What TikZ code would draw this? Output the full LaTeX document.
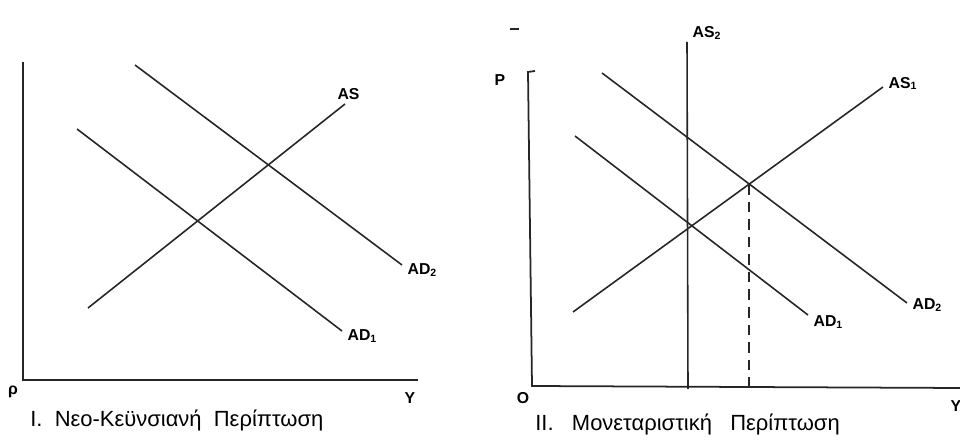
\documentclass[tikz,border=0pt]{standalone}
\usepackage{fontspec}
\setmainfont{Liberation Sans}
\usetikzlibrary{positioning}

\begin{document}
\begin{tikzpicture}[x=0.02cm, y=-0.02cm,
    curve/.style={line width=0.9pt, black!85},
    axisline/.style={line width=1pt, black!85},
    lbl/.style={font=\small\bfseries, inner sep=1pt},
    caption/.style={font=\fontsize{12.5}{14}\selectfont, anchor=west, inner sep=0pt}
]
    \useasboundingbox[fill=white] (0,0) rectangle (960,448);

    % I. left panel
    \coordinate (o1) at (23,380);
    \coordinate (p1top) at (23,62);
    \coordinate (y1end) at (418,380);
    \draw[axisline] (p1top) -- (o1) -- (y1end);
    \node[lbl] (rho1) at (13,392) {ρ};
    \node[lbl] (y1) at (410,398) {Y};

    \coordinate (as-a) at (88,308);
    \coordinate (as-b) at (345,104);
    \coordinate (ad1-a) at (77,129);
    \coordinate (ad1-b) at (342,331);
    \coordinate (ad2-a) at (135,65);
    \coordinate (ad2-b) at (402,265);
    \draw[curve] (as-a) -- (as-b);
    \draw[curve] (ad1-a) -- (ad1-b);
    \draw[curve] (ad2-a) -- (ad2-b);
    \node[lbl, above=1pt of as-b, xshift=2pt] (as) {AS};
    \node[lbl, right=2pt of ad1-b, yshift=-3pt] (ad1) {AD\textsubscript{1}};
    \node[lbl, right=2pt of ad2-b, yshift=-3pt] (ad2) {AD\textsubscript{2}};

    \node[caption] (cap1) at (30,421) {I.\ \ Νεο-Κεϋνσιανή\ \ Περίπτωση};

    % II. right panel
    \coordinate (o2) at (532,386);
    \coordinate (p2top) at (528,72);
    \coordinate (p2hook) at (535,71);
    \coordinate (y2end) at (960,388);
    \draw[axisline] (p2hook) -- (p2top) -- (o2) -- (y2end);
    \node[lbl] (p2) at (500,80) {P};
    \node[lbl] (o2lbl) at (523,398) {O};
    \node[lbl] (y2) at (956,406) {Y};
    \coordinate (mk-a) at (510,29);
    \coordinate (mk-b) at (519,29);
    \draw[axisline] (mk-a) -- (mk-b);

    \coordinate (as2-a) at (688,389);
    \coordinate (as2-b) at (687,42);
    \coordinate (as1-a) at (573,312);
    \coordinate (as1-b) at (883,87);
    \coordinate (bd1-a) at (575,136);
    \coordinate (bd1-b) at (808,315);
    \coordinate (bd2-a) at (602,73);
    \coordinate (bd2-b) at (907,303);
    \draw[curve] (as2-a) -- (as2-b);
    \draw[curve] (as1-a) -- (as1-b);
    \draw[curve] (bd1-a) -- (bd1-b);
    \draw[curve] (bd2-a) -- (bd2-b);
    \node[lbl, above right=0pt and 2pt of as2-b] (as2) {AS\textsubscript{2}};
    \node[lbl, right=2pt of as1-b, yshift=2pt] (as1) {AS\textsubscript{1}};
    \node[lbl, right=2pt of bd1-b, yshift=-4pt] (bd1) {AD\textsubscript{1}};
    \node[lbl, right=2pt of bd2-b, yshift=-1pt] (bd2) {AD\textsubscript{2}};

    \coordinate (e2) at (749,184);
    \coordinate (e2foot) at (749,390);
    \draw[curve, dashed, dash pattern=on 6pt off 4pt] (e2) -- (e2foot);

    \node[caption] (cap2) at (535,425) {II.\ \ \ Μονεταριστική\ \ \ Περίπτωση};
\end{tikzpicture}
\end{document}
